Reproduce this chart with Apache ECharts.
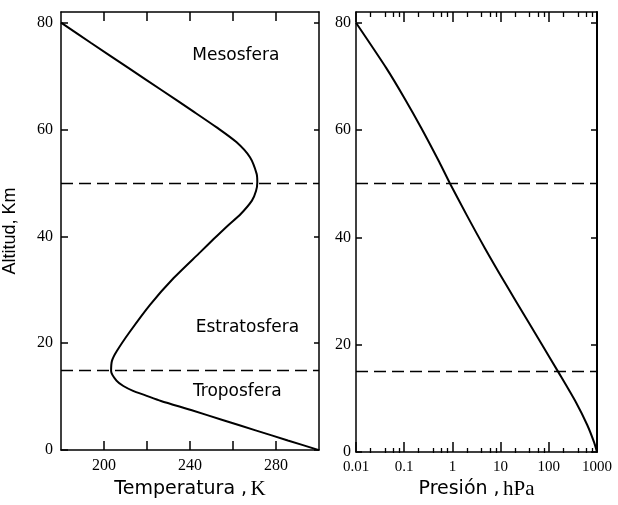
<!DOCTYPE html>
<html><head><meta charset="utf-8">
<script src="https://cdn.jsdelivr.net/npm/echarts@6/dist/echarts.min.js"></script>
<style>html,body{margin:0;padding:0;background:#fff}#c{width:618px;height:505px}</style>
</head><body><div id="c"></div>
<script>
// ---- data ----
const altitudeT   = [0, 1.8, 3.7, 5.6, 7.5, 9.2, 10.3, 11.1, 12.0, 13.0, 14.8, 16.7, 18.5, 22.2, 27.2, 32.2, 37.1, 39.5, 42.1, 44.2, 46.7, 48.5, 50.1, 51.7, 54.8, 57.6, 60.4, 63.4, 67.4, 71.5, 76.2, 80];
const temperature = [300, 285.5, 270.5, 255.5, 240.5, 226.5, 219, 213.5, 209, 205.8, 203.3, 203.7, 205.9, 212.1, 221.4, 232.4, 244.9, 251, 257.8, 263.6, 268.8, 270.7, 271.3, 271, 267.9, 261.7, 252.4, 241.5, 226.7, 211.5, 194, 180];
const altitudeP   = [0, 1.8, 5, 9.2, 14.9, 20, 24.1, 31.5, 38, 44.2, 50.1, 54.1, 60.4, 65.9, 71.5, 80];
const pressure    = [1000, 871, 631, 370, 158, 72.4, 38.6, 12.4, 4.72, 1.97, 0.885, 0.531, 0.226, 0.102, 0.0429, 0.01];
const boundaries  = [50, 15];
const altTicks    = [0, 20, 40, 60, 80];
const tempTicks   = [200, 220, 240, 260, 280];
const tempLabels  = [200, 240, 280];
const presTicks   = [0.01, 0.1, 1, 10, 100, 1000];
const presLabels  = ['0.01', '0.1', '1', '10', '100', '1000'];
const presMinor   = [0.02, 0.04, 0.06, 0.08, 0.2, 0.4, 0.6, 0.8, 2, 4, 6, 8, 20, 40, 60, 80, 200, 400, 600, 800];
const layerNames  = ['Mesosfera', 'Estratosfera', 'Troposfera'];
const layerTemp   = [261.3, 266.7, 262];
const layerAlt    = [73.8, 22.9, 11.0];

const serif = '"Liberation Serif","DejaVu Serif",serif';
const sans = '"DejaVu Sans","Liberation Sans",sans-serif';
const black = '#000';
function axLine(show) { return {show: show, onZero: false, lineStyle: {color: black, width: 1.5}}; }
function ticks(len, vals, w) { return {show: true, inside: true, length: len, customValues: vals, lineStyle: {color: black, width: w || 1.5}}; }

const nameRich = {
  a: {fontFamily: sans, fontSize: 19, color: black},
  b: {fontFamily: serif, fontSize: 21, color: black}
};

const chart = echarts.init(document.getElementById('c'), null, {renderer: 'canvas'});
const dashed = {
  symbol: 'none', silent: true, label: {show: false},
  lineStyle: {color: black, type: [12, 6], width: 1.4},
  data: boundaries.map(v => ({yAxis: v}))
};

chart.setOption({
  backgroundColor: '#fff',
  animation: false,
  grid: [
    {left: 61, right: 299, top: 12, bottom: 52},
    {left: 356, right: 21, top: 12, bottom: 52},
    {left: 356, right: 21, top: 12, bottom: 52}
  ],
  xAxis: [
    {gridIndex: 0, position: 'bottom', type: 'value', min: 180, max: 300, interval: 20,
      axisLine: axLine(true), splitLine: {show: false}, axisTick: ticks(9, tempTicks),
      axisLabel: {show: true, customValues: tempLabels, color: black, fontFamily: serif, fontSize: 16, margin: 8},
      name: '{a|Temperatura ,} {b|K}', nameLocation: 'middle', nameGap: 25,
      nameTextStyle: {rich: nameRich}},
    {gridIndex: 0, position: 'top', type: 'value', min: 180, max: 300, interval: 20,
      axisLine: axLine(true), splitLine: {show: false}, axisTick: ticks(9, tempTicks),
      axisLabel: {show: false}},
    {gridIndex: 1, position: 'bottom', type: 'log', logBase: 10, min: 0.01, max: 1000,
      axisLine: axLine(true), splitLine: {show: false}, axisTick: ticks(10, presTicks),
      axisLabel: {show: true, customValues: presTicks, color: black, fontFamily: serif, fontSize: 15, margin: 7,
        formatter: v => presLabels[presTicks.findIndex(t => Math.abs(Math.log10(t) - Math.log10(v)) < 1e-6)] || ''},
      name: '{a|Presión ,} {b|hPa}', nameLocation: 'middle', nameGap: 25,
      nameTextStyle: {rich: nameRich}},
    {gridIndex: 1, position: 'top', type: 'log', logBase: 10, min: 0.01, max: 1000,
      axisLine: axLine(true), splitLine: {show: false}, axisTick: ticks(10, presTicks),
      axisLabel: {show: false}},
    {gridIndex: 2, position: 'bottom', type: 'log', logBase: 10, min: 0.01, max: 1000,
      axisLine: axLine(false), splitLine: {show: false}, axisTick: ticks(5, presMinor, 1.3),
      axisLabel: {show: false}},
    {gridIndex: 2, position: 'top', type: 'log', logBase: 10, min: 0.01, max: 1000,
      axisLine: axLine(false), splitLine: {show: false}, axisTick: ticks(5, presMinor, 1.3),
      axisLabel: {show: false}}
  ],
  yAxis: [
    {gridIndex: 0, position: 'left', type: 'value', min: 0, max: 82, interval: 20,
      axisLine: axLine(true), splitLine: {show: false}, axisTick: ticks(7, altTicks),
      axisLabel: {customValues: altTicks, color: black, fontFamily: serif, fontSize: 16, margin: 8},
      name: 'Altitud, Km', nameLocation: 'middle', nameGap: 42,
      nameTextStyle: {fontFamily: '"Liberation Sans",sans-serif', fontSize: 18, color: black}},
    {gridIndex: 0, position: 'right', type: 'value', min: 0, max: 82, interval: 20,
      axisLine: axLine(true), splitLine: {show: false}, axisTick: ticks(5, altTicks),
      axisLabel: {show: false}},
    {gridIndex: 1, position: 'left', type: 'value', min: 0, max: 82, interval: 20,
      axisLine: axLine(true), splitLine: {show: false}, axisTick: ticks(6, altTicks),
      axisLabel: {customValues: altTicks, color: black, fontFamily: serif, fontSize: 16, margin: 5}},
    {gridIndex: 1, position: 'right', type: 'value', min: 0, max: 82, interval: 20,
      axisLine: {show: true, onZero: false, lineStyle: {color: black, width: 2}}, splitLine: {show: false}, axisTick: ticks(6, altTicks),
      axisLabel: {show: false}},
    {gridIndex: 2, type: 'value', min: 0, max: 82, show: false}
  ],
  series: [
    {
      type: 'line', xAxisIndex: 0, yAxisIndex: 0, smooth: 0.25,
      showSymbol: false, symbol: 'none',
      lineStyle: {color: black, width: 2},
      data: altitudeT.map((z, i) => [temperature[i], z]),
      markLine: dashed,
      markPoint: {
        symbol: 'rect', symbolSize: 1, silent: true,
        itemStyle: {color: 'rgba(0,0,0,0)'},
        label: {show: true, position: 'inside', formatter: p => p.name, fontFamily: sans, fontSize: 17, color: black},
        data: layerNames.map((n, i) => ({name: n, coord: [layerTemp[i], layerAlt[i]]}))
      }
    },
    {
      type: 'line', xAxisIndex: 2, yAxisIndex: 2, smooth: 0.25,
      showSymbol: false, symbol: 'none',
      lineStyle: {color: black, width: 2},
      data: altitudeP.map((z, i) => [pressure[i], z]),
      markLine: dashed
    }
  ]
});
</script>
</body></html>
